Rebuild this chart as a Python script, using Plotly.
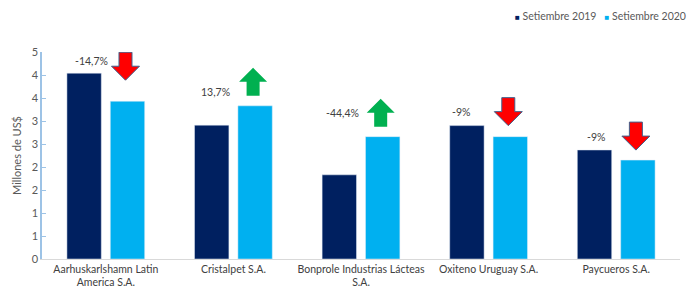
import plotly.graph_objects as go

categories = ["Aarhuskarlshamn Latin<br>America S.A.", "Cristalpet S.A.",
              "Bonprole Industrias Lácteas<br>S.A.", "Oxiteno Uruguay S.A.", "Paycueros S.A."]
sep_2019 = [4.04, 2.91, 1.83, 2.90, 2.37]
sep_2020 = [3.43, 3.33, 2.66, 2.66, 2.15]
change_labels = ["-14,7%", "13,7%", "-44,4%", "-9%", "-9%"]
y_tickvals = [0, 0.5, 1, 1.5, 2, 2.5, 3, 3.5, 4, 4.5]
y_ticktext = ["0", "1", "1", "2", "2", "3", "3", "4", "4", "5"]
series_names = ["Setiembre 2019", "Setiembre 2020"]

DARK = "#002060"
LIGHT = "#00B0F0"
FONT = "Lato"
GREY = "#595959"

xs = list(range(len(categories)))
bargap = 0.32

fig = go.Figure()
fig.add_bar(x=xs, y=sep_2019, name=series_names[0], marker_color=DARK, showlegend=False)
fig.add_bar(x=xs, y=sep_2020, name=series_names[1], marker_color=LIGHT, showlegend=False)

# arrows and change labels (decorations), offsets in pixels
px_x = 1 / 127.6
px_y = 1 / 46.0
gaps = [21, 10, 10, 11, 10]
label_dx = [-34, -38, -38, -47, -40]
label_dy = [5, -10, 0, 0, -1]
shapes = []
annotations = []
for i, (a, b) in enumerate(zip(sep_2019, sep_2020)):
    cx = i + (1 - bargap) / 4 - 2 * px_x
    hw = 14 * px_x
    sw = 6.5 * px_x
    total = 28 * px_y
    head = 14 * px_y
    base = b + gaps[i] * px_y
    y0 = base
    y1 = base + total
    if b > a:
        ym = y1 - head
        path = (f"M {cx-sw},{y0} L {cx+sw},{y0} L {cx+sw},{ym} L {cx+hw},{ym} "
                f"L {cx},{y1} L {cx-hw},{ym} L {cx-sw},{ym} Z")
        color, line = "#00B050", dict(width=0)
    else:
        ym = y0 + head
        path = (f"M {cx-sw},{y1} L {cx+sw},{y1} L {cx+sw},{ym} L {cx+hw},{ym} "
                f"L {cx},{y0} L {cx-hw},{ym} L {cx-sw},{ym} Z")
        color, line = "#FF0000", dict(width=1, color="#41618C")
    shapes.append(dict(type="path", path=path, xref="x", yref="y",
                       fillcolor=color, line=line, layer="above"))
    annotations.append(dict(x=cx + label_dx[i] * px_x,
                            y=(y0 + y1) / 2 + label_dy[i] * px_y,
                            xref="x", yref="y",
                            text=change_labels[i], showarrow=False,
                            font=dict(family=FONT, size=10.5, color="#404040")))

# legend as annotation
annotations.append(dict(
    x=(688 - 42.4) / 638, y=(259 - 16) / 207, xref="paper", yref="paper",
    xanchor="right", yanchor="middle", showarrow=False,
    text=(f"<span style='color:{DARK};font-size:8px'>■</span> {series_names[0]}"
          f"   <span style='color:{LIGHT};font-size:8px'>■</span> {series_names[1]}"),
    font=dict(family=FONT, size=10.5, color=GREY)))

fig.update_layout(
    width=696, height=293,
    margin=dict(l=42, r=16, t=52, b=34),
    paper_bgcolor="white", plot_bgcolor="white",
    barmode="group", bargap=bargap, bargroupgap=0.207,
    shapes=shapes, annotations=annotations,
    font=dict(family=FONT, size=11, color=GREY),
    xaxis=dict(tickvals=xs, ticktext=categories, range=[-0.5, len(xs) - 0.5],
               showline=True, linecolor="#D9D9D9", linewidth=1, ticks="",
               showgrid=False, zeroline=False, automargin=False,
               tickfont=dict(family=FONT, size=10.5, color="#404040")),
    yaxis=dict(range=[0, 4.5], tickvals=y_tickvals, ticktext=y_ticktext,
               showline=True, linecolor="#9DC3E6", linewidth=1.5,
               ticks="inside", ticklen=4, tickcolor="#9DC3E6",
               showgrid=False, zeroline=False, automargin=False,
               tickfont=dict(family=FONT, size=11, color=GREY),
               title=dict(text="Millones de US$", standoff=8,
                          font=dict(family=FONT, size=11, color=GREY))),
)

fig.write_html("out.html", config={"displayModeBar": False},
               post_script="document.body.style.margin='0';document.body.style.overflow='hidden';")
